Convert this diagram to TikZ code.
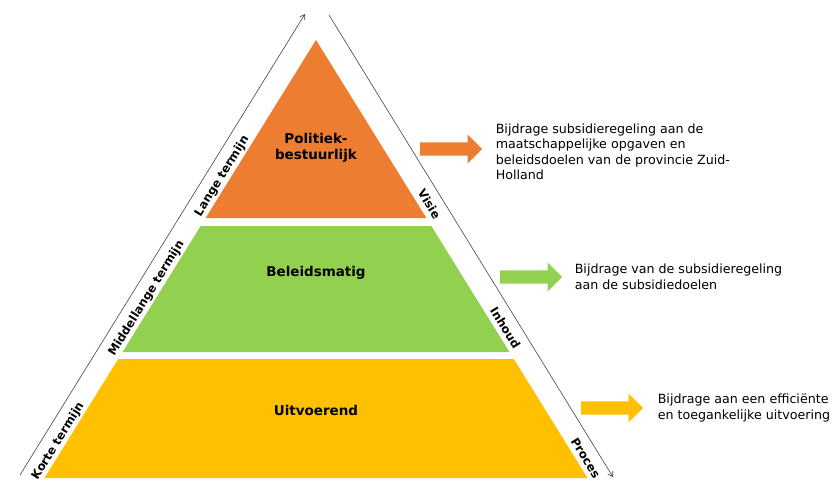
\documentclass[tikz,border=0pt]{standalone}
\usepackage{fontspec}
\setmainfont{DejaVu Sans}
\usetikzlibrary{shapes,arrows.meta,positioning}

\definecolor{polorange}{HTML}{ED7D31}
\definecolor{belgreen}{HTML}{92D050}
\definecolor{uitgold}{HTML}{FFC000}

\tikzset{
  axisline/.style={draw=black!75, line width=0.5pt, -{Straight Barb[length=4pt,width=5pt]}},
  sidelabel/.style={font=\fontsize{10}{12}\selectfont\bfseries, sloped, below=5.5pt, inner sep=2pt},
  levellabel/.style={font=\fontsize{11.5}{14}\selectfont\bfseries, align=center},
  blockarrow/.style={single arrow, draw=none, minimum height=1.86cm, inner sep=0.19cm,
    single arrow head extend=0.24cm, anchor=tail},
  note/.style={font=\fontsize{10.8}{13.2}\selectfont, align=left, inner sep=0pt},
}

\begin{document}
\begin{tikzpicture}[x=0.03cm, y=-0.03cm]
    \useasboundingbox (0,0) rectangle (832,494);

    % Pyramid levels
    \foreach \ytop/\ybot/\col in {40/218/polorange, 226/352/belgreen, 359/478/uitgold} {
        \fill[\col] ({316-(\ytop-40)*0.62},\ytop) -- ({316+(\ytop-40)*0.62},\ytop)
            -- ({316+(\ybot-40)*0.62},\ybot) -- ({316-(\ybot-40)*0.62},\ybot) -- cycle;
    }
    \node[levellabel] (pol) at (316,148) {Politiek-\\bestuurlijk};
    \node[levellabel] (bel) at (316,273) {Beleidsmatig};
    \node[levellabel] (uit) at (316,410) {Uitvoerend};

    % Time axis (left)
    \coordinate (lbot) at (20,475);
    \coordinate (ltop) at (305,14);
    \draw[axisline] (lbot) -- (ltop)
        node[sidelabel, pos=0.09] (korte) {Korte termijn}
        node[sidelabel, pos=0.40] (middel) {Middellange termijn}
        node[sidelabel, pos=0.665] (lange) {Lange termijn};

    % Content axis (right)
    \coordinate (rtop) at (329,15);
    \coordinate (rbot) at (613,477);
    \draw[axisline] (rtop) -- (rbot)
        node[sidelabel, pos=0.394] (visie) {Visie}
        node[sidelabel, pos=0.662] (inhoud) {Inhoud}
        node[sidelabel, pos=0.944] (proces) {Proces};

    % Contributions
    \node[blockarrow, fill=polorange] (oarrow) at (420,149) {};
    \node[note, right=0.39cm of oarrow.tip, yshift=-0.09cm] (otext)
        {Bijdrage subsidieregeling aan de\\maatschappelijke opgaven en\\beleidsdoelen van de provincie Zuid-\\Holland};

    \node[blockarrow, fill=belgreen] (garrow) at (500,277) {};
    \node[note, right=0.36cm of garrow.tip] (gtext)
        {Bijdrage van de subsidieregeling\\aan de subsidiedoelen};

    \node[blockarrow, fill=uitgold] (yarrow) at (581,408) {};
    \node[note, right=0.42cm of yarrow.tip] (ytext)
        {Bijdrage aan een efficiënte\\en toegankelijke uitvoering};
\end{tikzpicture}
\end{document}
